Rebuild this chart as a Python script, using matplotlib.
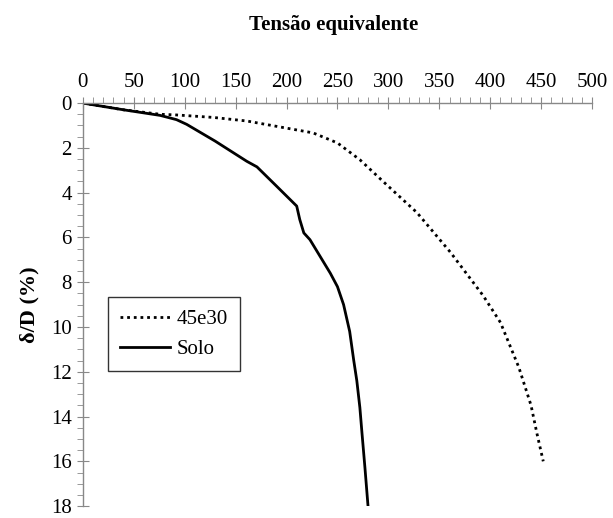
import matplotlib
matplotlib.use('Agg')
import matplotlib.pyplot as plt
from matplotlib.ticker import MultipleLocator

# 45e30 curve
x_45e30 = [0, 40, 76, 92, 128, 161, 194, 226, 250, 272, 295, 328, 361, 393, 410, 428, 440, 446, 452]
y_45e30 = [0, 0.3, 0.5, 0.53, 0.64, 0.8, 1.07, 1.33, 1.78, 2.53, 3.51, 4.89, 6.67, 8.6, 9.8, 11.8, 13.5, 14.8, 16.0]

# Solo curve
x_solo = [0, 40, 76, 92, 102, 130, 161, 171, 190, 210, 213, 217, 223, 235, 243, 250, 256, 262, 266, 269, 272, 274, 277, 280]
y_solo = [0, 0.3, 0.55, 0.74, 0.95, 1.7, 2.6, 2.85, 3.7, 4.6, 5.2, 5.8, 6.1, 7.0, 7.6, 8.2, 9.0, 10.2, 11.5, 12.4, 13.6, 14.7, 16.3, 18.0]

plt.rcParams['font.family'] = ['Liberation Serif', 'DejaVu Serif']

fig = plt.figure(figsize=(6.13, 5.18), dpi=100)
ax = fig.add_axes([0.135, 0.023, 0.831, 0.778])

ax.plot(x_45e30, y_45e30, color='black', lw=2, linestyle=(0, (1, 1.4)), label='45e30')
ax.plot(x_solo, y_solo, color='black', lw=2, label='Solo')

ax.set_xlim(0, 500)
ax.set_ylim(18, 0)
ax.xaxis.set_major_locator(MultipleLocator(50))
ax.xaxis.set_minor_locator(MultipleLocator(10))
ax.yaxis.set_major_locator(MultipleLocator(2))
ax.yaxis.set_minor_locator(MultipleLocator(0.5))
ax.xaxis.tick_top()

for s in ['right', 'bottom']:
    ax.spines[s].set_visible(False)
for s in ['left', 'top']:
    ax.spines[s].set_color('#888888')
    ax.spines[s].set_linewidth(1)

ax.tick_params(which='major', direction='inout', length=8, color='#888888', labelsize=15, pad=4)
ax.tick_params(which='minor', direction='out', length=4, color='#888888')

fig.text(0.545, 0.952, 'Tensão equivalente', ha='center', va='center', fontsize=15, fontweight='bold')
ax.set_ylabel('δ/D (%)', fontsize=16, fontweight='bold', labelpad=8)

leg = ax.legend(loc='upper left', bbox_to_anchor=(0.176, 0.427), bbox_transform=fig.transFigure,
                fontsize=15, frameon=True, fancybox=False, edgecolor='black', borderaxespad=0,
                handlelength=2.4, handletextpad=0.3, borderpad=0.6, labelspacing=0.5)
leg.get_frame().set_linewidth(1)

fig.savefig('out.png', dpi=100)
